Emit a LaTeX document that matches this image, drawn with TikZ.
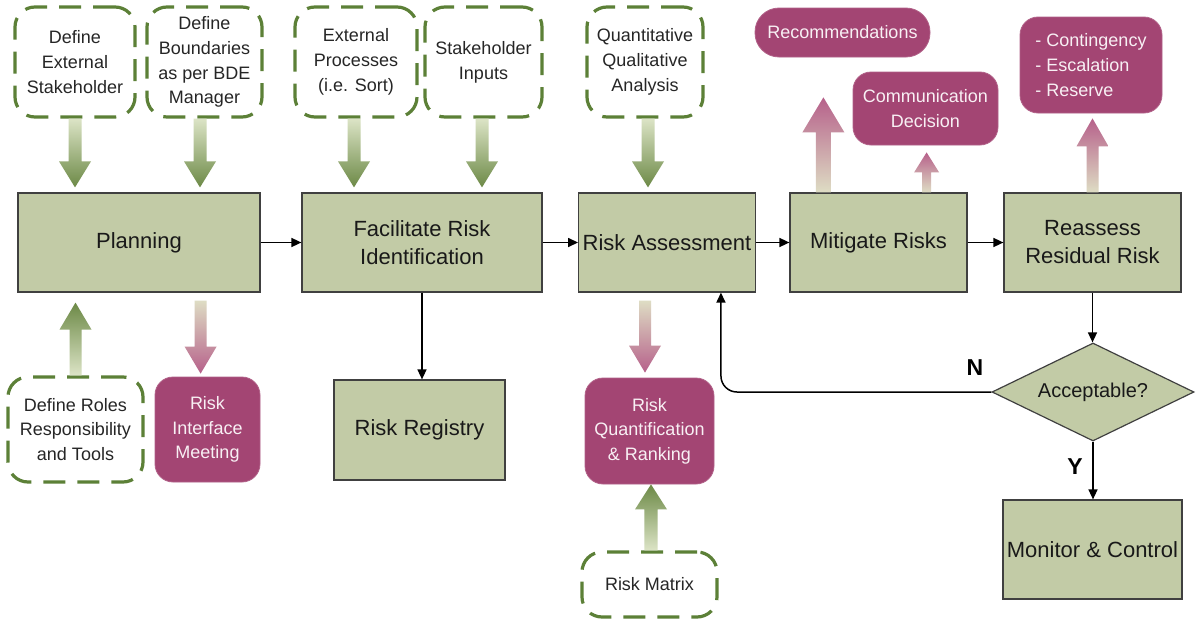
\documentclass[tikz,border=0pt]{standalone}
\usepackage{fontspec}
\setmainfont{Liberation Sans}
\usetikzlibrary{shapes.geometric,calc,arrows.meta}
\definecolor{boxgreen}{RGB}{194,203,166}
\definecolor{dgreen}{RGB}{92,128,55}
\definecolor{mag}{RGB}{163,69,115}
\definecolor{gdark}{RGB}{108,137,70}
\definecolor{glight}{RGB}{220,228,198}
\definecolor{pdark}{RGB}{182,96,138}
\definecolor{plight}{RGB}{222,221,196}
\newcommand\blkdown[6]{%
  \path[#1] let \p1=#2, \p2=#3 in
    (\x1-#4,\y1) -- (\x1-#4,\y2+#6) -- (\x1-#5,\y2+#6) -- (\x1,\y2) --
    (\x1+#5,\y2+#6) -- (\x1+#4,\y2+#6) -- (\x1+#4,\y1) -- cycle;}
\newcommand\blkup[6]{%
  \path[#1] let \p1=#2, \p2=#3 in
    (\x1-#4,\y1) -- (\x1-#4,\y2-#6) -- (\x1-#5,\y2-#6) -- (\x1,\y2) --
    (\x1+#5,\y2-#6) -- (\x1+#4,\y2-#6) -- (\x1+#4,\y1) -- cycle;}
\tikzset{
  mainbox/.style={draw=black!75, line width=0.6pt, fill=boxgreen, align=center,
    minimum height=49.5pt, inner sep=2pt, text=black!90,
    font=\fontsize{11}{14}\selectfont},
  dashbox/.style={draw=dgreen, line width=1.6pt, dash pattern=on 11pt off 6pt,
    rounded corners=10pt, fill=white, align=center, inner sep=1pt,
    text=black!85, font=\fontsize{9}{12.4}\selectfont},
  magbox/.style={fill=mag, draw=mag!85!white, line width=0.4pt, rounded corners=9pt,
    text=white!92!mag, align=center, inner sep=1pt,
    font=\fontsize{9}{12.3}\selectfont},
  conn/.style={draw=black, line width=0.75pt, -{Triangle[length=5pt,width=4.5pt]}},
  gdown/.style={top color=glight, bottom color=gdark},
  gup/.style={top color=gdark, bottom color=glight},
  pdown/.style={top color=plight, bottom color=pdark},
  pup/.style={top color=pdark, bottom color=plight},
  yn/.style={font=\fontsize{11.5}{13}\selectfont\bfseries}
}
\begin{document}
\begin{tikzpicture}[x=0.5pt,y=-0.5pt]
\useasboundingbox[fill=white] (0,0) rectangle (1196,621);

% main process boxes
\node[mainbox, minimum width=121pt] (plan) at (139,242.5) {Planning};
\node[mainbox, minimum width=120pt] (fri) at (422,242.5) {Facilitate Risk\\Identification};
\node[mainbox, minimum width=87pt] (ra) at (667,242.5) {Risk Assessment};
\node[mainbox, minimum width=88.5pt] (mit) at (878.5,242.5) {Mitigate Risks};
\node[mainbox, minimum width=88.5pt] (rea) at (1092.5,242.5) {Reassess\\Residual Risk};
\node[mainbox, minimum width=85.5pt, minimum height=50pt] (rr) at (419.5,430) {Risk Registry};
\node[mainbox, minimum width=88.5pt] (mon) at (1092.5,549.5) {Monitor \& Control};
\node[diamond, aspect=2.06, draw=black!75, line width=0.6pt, fill=boxgreen, minimum width=101pt,
  minimum height=49pt, inner sep=0pt, text=black!90,
  font=\fontsize{10}{12}\selectfont] (acc) at (1093,392) {Acceptable?};

% dashed input boxes
\node[dashbox, minimum width=60pt, minimum height=55pt] (dext) at (75,62) {Define\\External\\Stakeholder};
\node[dashbox, minimum width=57.5pt, minimum height=55pt] (dbound) at (204.5,62) {Define\\Boundaries\\as per BDE\\Manager};
\node[dashbox, minimum width=61pt, minimum height=55pt] (extp) at (356,62) {External\\Processes\\(i.e. Sort)};
\node[dashbox, minimum width=58.5pt, minimum height=55pt] (sinp) at (483.5,62) {Stakeholder\\Inputs};
\node[dashbox, minimum width=58pt, minimum height=55pt] (qqa) at (645,62) {Quantitative\\Qualitative\\Analysis};
\node[dashbox, minimum width=67.5pt, minimum height=52.5pt] (droles) at (75.5,429.5) {Define Roles\\Responsibility\\and Tools};
\node[dashbox, minimum width=67.5pt, minimum height=32.5pt] (rmat) at (649.5,584.5) {Risk Matrix};

% magenta output boxes
\node[magbox, minimum width=52.5pt, minimum height=52.5pt] (rim) at (207.5,429.5) {Risk\\Interface\\Meeting};
\node[magbox, minimum width=64.5pt, minimum height=53pt] (rqr) at (649.5,431) {Risk\\Quantification\\\& Ranking};
\node[magbox, minimum width=87.5pt, minimum height=24.5pt, rounded corners=12pt] (rec) at (842.5,32.5) {Recommendations};
\node[magbox, minimum width=72.5pt, minimum height=36.5pt] (comd) at (925.5,108.5) {Communication\\Decision};
\node[magbox, minimum width=71pt, minimum height=48pt, align=left] (cont) at (1091,65) {- Contingency\\- Escalation\\- Reserve};

% connectors
\draw[conn] (plan) -- (fri);
\draw[conn] (fri) -- (ra);
\draw[conn] (ra) -- (mit);
\draw[conn] (mit) -- (rea);
\draw[conn] (fri.south) -- (fri.south |- rr.north);
\draw[conn] (rea.south) -- (rea.south |- acc.north);
\draw[conn] (acc.south) -- (acc.south |- mon.north);
\draw[conn, rounded corners=8pt] (acc.west) -| ($(ra.south east)+(-35,0)$);
\node[yn] (nlab) at (975,368) {N};
\node[yn] (ylab) at (1075,467) {Y};

% block arrows
\blkdown{gdown}{(dext.south)}{($(plan.north)+(0,-5)$)}{3.25pt}{8pt}{13pt}
\blkdown{gdown}{($(dbound.south)+(-4.5,0)$)}{($(plan.north)+(0,-5)$)}{3.25pt}{8pt}{13pt}
\blkdown{gdown}{($(extp.south)+(-2,0)$)}{($(fri.north)+(0,-5)$)}{3.25pt}{8pt}{13pt}
\blkdown{gdown}{($(sinp.south)+(-1.5,0)$)}{($(fri.north)+(0,-5)$)}{3.25pt}{8pt}{13pt}
\blkdown{gdown}{($(qqa.south)+(3,0)$)}{($(ra.north)+(0,-5)$)}{3.25pt}{8pt}{13pt}
\blkup{gup}{(droles.north)}{($(plan.south)+(0,10)$)}{3pt}{8pt}{13.5pt}
\blkup{gup}{($(rmat.north)+(1.5,0)$)}{(rqr.south)}{3.3pt}{8pt}{12.5pt}
\blkdown{pdown}{($(plan.south east)+(-60,8)$)}{($(rim.north)+(0,-3)$)}{3pt}{8pt}{13.5pt}
\blkdown{pdown}{($(ra.south)+(-22,8)$)}{($(rqr.north)+(0,-5)$)}{3pt}{8pt}{13.5pt}
\blkup{pup}{($(mit.north west)+(34,0)$)}{($(rec.south)+(0,40)$)}{3.75pt}{10.5pt}{17.5pt}
\blkup{pup}{($(mit.north east)+(-41,0)$)}{($(comd.south)+(0,7)$)}{2.25pt}{6.25pt}{10pt}
\blkup{pup}{(rea.north)}{($(cont.south)+(0,5)$)}{3pt}{8pt}{14pt}
\end{tikzpicture}
\end{document}
